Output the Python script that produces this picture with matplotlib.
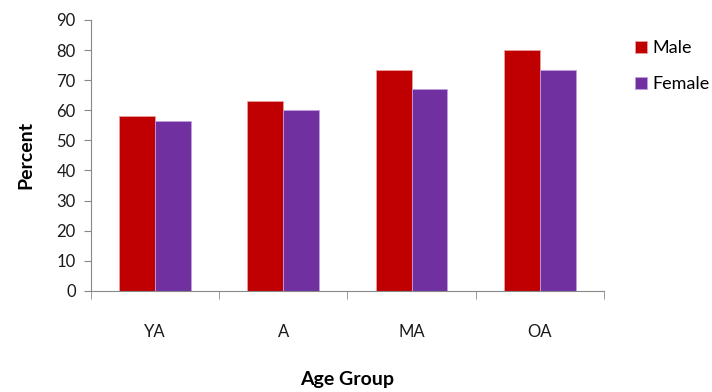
import matplotlib.pyplot as plt
import numpy as np

plt.rcParams['font.family'] = ['Lato', 'DejaVu Sans']

groups = ["YA", "A", "MA", "OA"]
male = [58, 63, 73.5, 80]
female = [56.5, 60, 67, 73.5]
y_ticks = [0, 10, 20, 30, 40, 50, 60, 70, 80, 90]

fig = plt.figure(figsize=(7.12, 3.92), dpi=100)
ax = fig.add_axes([0.128, 0.258, 0.720, 0.691])

x = np.arange(len(groups))
w = 0.28
ax.bar(x - w / 2, male, w, color="#C00000", edgecolor="#E8A0A0", linewidth=0.6, label="Male")
ax.bar(x + w / 2, female, w, color="#7030A0", edgecolor="#C0A0DC", linewidth=0.6, label="Female")

ax.set_xlim(-0.5, len(groups) - 0.5)
ax.set_ylim(0, 90)
ax.set_yticks(y_ticks)
ax.tick_params(axis="y", labelsize=12, length=5, color="#888888", labelcolor="#1a1a1a", pad=6)

# category labels sit well below the axis, tick marks go on group boundaries
ax.set_xticks(x)
ax.set_xticklabels(groups)
ax.tick_params(axis="x", length=0, labelsize=12, labelcolor="#1a1a1a", pad=24)
ax.set_xticks(np.arange(len(groups) + 1) - 0.5, minor=True)
ax.tick_params(axis="x", which="minor", length=6, color="#888888")

for side in ("top", "right"):
    ax.spines[side].set_visible(False)
for side in ("left", "bottom"):
    ax.spines[side].set_color("#888888")

ax.set_ylabel("Percent", fontsize=14, fontweight="bold", labelpad=16)
ax.set_xlabel("Age Group", fontsize=14, fontweight="bold", labelpad=22)

ax.legend(loc="upper left", bbox_to_anchor=(1.06, 0.925), frameon=False,
          fontsize=13, handlelength=0.7, handleheight=0.7, handletextpad=0.3,
          labelspacing=1.1, borderaxespad=0, borderpad=0)

fig.savefig("out.png", dpi=100)
